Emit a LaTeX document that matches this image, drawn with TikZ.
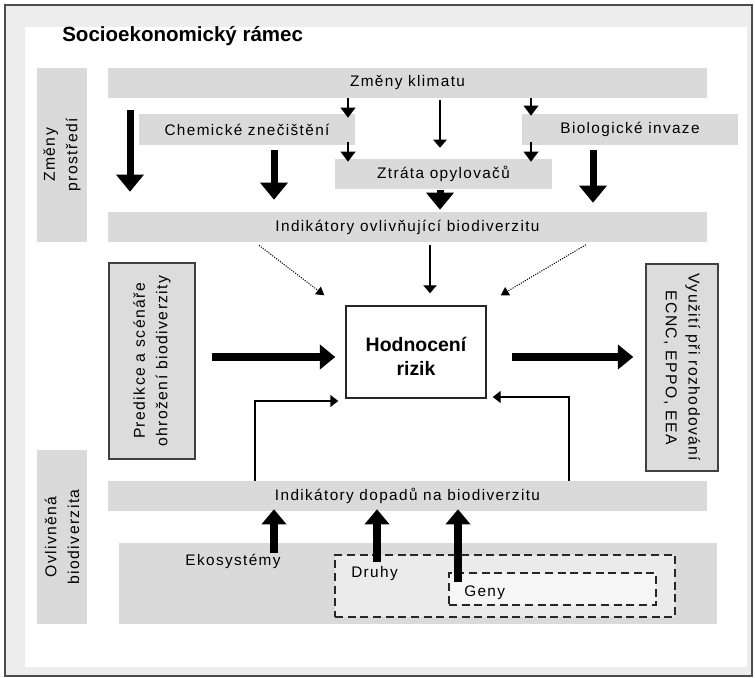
\documentclass[tikz,border=0pt]{standalone}
\usepackage{fontspec}
\setmainfont{Liberation Sans}
\newfontfamily\lsf[LetterSpace=9]{Liberation Sans}
\usetikzlibrary{arrows.meta,fit}
\definecolor{bandgray}{HTML}{DADADA}
\definecolor{framegray}{HTML}{EDEDED}
\definecolor{boxgray}{HTML}{DCDCDC}
\definecolor{druhyfill}{HTML}{EBEBEB}
\definecolor{genyfill}{HTML}{F6F6F6}
\begin{document}
\begin{tikzpicture}[x=0.75pt,y=-0.75pt,
  band/.style={fill=bandgray, draw=none, inner sep=0pt},
  btext/.style={font=\lsf\fontsize{11.5}{17}\selectfont, inner sep=0pt, align=center},
  rtext/.style={font=\lsf\fontsize{11.8}{17}\selectfont, inner sep=0pt, align=center},
  graybox/.style={fill=boxgray, draw=black!75, line width=1.1pt, inner sep=0pt},
  dbox/.style={draw=black!85, dash pattern=on 6pt off 3.5pt, line width=1.1pt, inner sep=0pt},
  bigV/.style={line width=5.25pt, -{Triangle[length=12.75pt,width=20pt]}},
  bigH/.style={line width=6.5pt, -{Triangle[length=11.5pt,width=18pt]}},
  bigU/.style={line width=6pt, -{Triangle[length=11.25pt,width=18pt]}},
  smallA/.style={line width=1.1pt, -{Triangle[length=7.5pt,width=11pt]}},
  thinA/.style={line width=0.8pt, -{Triangle[length=6pt,width=10pt]}},
  diagA/.style={line width=0.8pt, densely dotted, -{Triangle[length=6pt,width=7pt]}},
  fbA/.style={line width=1.1pt, -{Triangle[length=6pt,width=9pt]}}
]
\useasboundingbox (0,0) rectangle (755,677);
\fill[white] (0,0) rectangle (755,677);
% frame
\node[fit={(5,5)(752,676)}, inner sep=0pt, fill=framegray, draw=black!70, line width=1.2pt] (frame) {};
\node[fit={(25,27)(747,667)}, inner sep=0pt, fill=white] (inner) {};
% title
\node[anchor=base west, inner sep=0pt, font=\bfseries\fontsize{15.4}{18}\selectfont] (title) at (62,42) {Socioekonomický rámec};

% side bands
\node[band, fit={(37,68)(87,242)}] (zp) {};
\node[rtext, rotate=90] (zpT) at (zp.center) {Změny\\prostředí};
\node[band, fit={(37,450)(87,624)}] (ob) {};
\node[rtext, rotate=90] (obT) at (ob.center) {Ovlivněná\\biodiverzita};

% upper bands
\node[band, fit={(108,68)(707,98)}] (klima) {};
\node[btext] (klimaT) at (klima.center) {Změny klimatu};
\node[band, fit={(139,114)(355,145)}] (chem) {};
\node[btext] (chemT) at (chem.center) {Chemické znečištění};
\node[band, fit={(522,114)(738,145)}] (bio) {};
\node[btext] (bioT) at (bio.center) {Biologické invaze};
\node[band, fit={(335,159)(552,189)}] (ztr) {};
\node[btext] (ztrT) at (ztr.center) {Ztráta opylovačů};
\node[band, fit={(108,212)(707,242)}] (ind1) {};
\node[btext] (ind1T) at (ind1.center) {Indikátory ovlivňující biodiverzitu};

% middle
\node[graybox, fit={(109,263)(195,459)}] (pred) {};
\node[rtext, rotate=90] (predT) at (pred.center) {Predikce a scénáře\\ohrožení biodiverzity};
\node[fill=white, draw=black!85, line width=1.1pt, inner sep=0pt, fit={(346,306)(486,398)}] (hod) {};
\node[align=center, inner sep=0pt, font=\bfseries\fontsize{14.6}{18}\selectfont] (hodT) at ([yshift=-3]hod.center) {Hodnocení\\rizik};
\node[graybox, fit={(646,264)(718,471)}] (vyu) {};
\node[rtext, rotate=-90] (vyuT) at (vyu.center) {Využití při rozhodování\\ECNC, EPPO, EEA};

% lower
\node[band, fit={(108,481)(707,511)}] (ind2) {};
\node[btext] (ind2T) at (ind2.center) {Indikátory dopadů na biodiverzitu};
\node[band, fit={(119,543)(717,624)}] (eko) {};
\node[btext] (ekoT) at (233,561) {Ekosystémy};
\node[dbox, fill=druhyfill, fit={(335,555)(675,617)}] (druhy) {};
\node[btext, anchor=west] (druhyT) at (351,574) {Druhy};
\node[dbox, fill=genyfill, fit={(449,573)(656,605)}] (geny) {};
\node[btext, anchor=west] (genyT) at (464,593) {Geny};

% helper coordinates
\coordinate (xa) at (130,0);
\coordinate (xb) at (274,0);
\coordinate (xs1) at (348,0);
\coordinate (xc) at (440,0);
\coordinate (xs2) at (531,0);
\coordinate (xd) at (593,0);
\coordinate (xm) at (430,0);
\coordinate (xl) at (255,0);
\coordinate (xr) at (590,0);
\coordinate (yh) at (0,357);
\coordinate (yf1) at (0,401);
\coordinate (yf2) at (0,397);
\coordinate (xf1) at (255,0);
\coordinate (xf2) at (569,0);
\coordinate (u1) at (274,553);
\coordinate (u2) at (377,562);
\coordinate (u3) at (458,582);

% upper arrows
\draw[bigV, shorten <=9pt, shorten >=15pt] (klima.south -| xa) -- (ind1.north -| xa);
\draw[bigV, shorten <=3.75pt, shorten >=9pt] (chem.south -| xb) -- (ind1.north -| xb);
\draw[smallA, shorten >=-3pt] (klima.south -| xs1) -- (chem.north -| xs1);
\draw[smallA, shorten <=-2.25pt, shorten >=-2.25pt] (chem.south -| xs1) -- (ztr.north -| xs1);
\draw[thinA, shorten <=1.5pt, shorten >=8.25pt] (klima.south -| xc) -- (ztr.north -| xc);
\draw[smallA, shorten >=-1.5pt] (klima.south -| xs2) -- (bio.north -| xs2);
\draw[smallA, shorten <=-2.25pt, shorten >=-2.25pt] (bio.south -| xs2) -- (ztr.north -| xs2);
\draw[bigV, shorten <=3.75pt, shorten >=6.75pt] (bio.south -| xd) -- (ind1.north -| xd);
\draw[bigV, shorten <=0.75pt, shorten >=1.5pt] (ztr.south -| xc) -- (ind1.north -| xc);

% into risk assessment
\draw[diagA, shorten <=3.75pt] (ind1.south -| xl) -- ([shift={(-21,-10)}]hod.north west);
\draw[thinA, shorten <=2.25pt, shorten >=9pt] (ind1.south -| xm) -- (hod.north -| xm);
\draw[diagA, shorten <=3.75pt] (ind1.south -| xr) -- ([shift={(14,-10)}]hod.north east);
\draw[bigH, shorten <=12pt, shorten >=7.5pt] (pred.east |- yh) -- (hod.west |- yh);
\draw[bigH, shorten <=18.75pt, shorten >=9pt] (hod.east |- yh) -- (vyu.west |- yh);
\draw[fbA, shorten >=5.25pt] (ind2.north -| xf1) |- (hod.west |- yf1);
\draw[fbA, shorten >=4.5pt] (ind2.north -| xf2) |- (hod.east |- yf2);

% lower arrows
\draw[bigU, shorten >=-1.5pt] (u1) -- (ind2.south -| u1);
\draw[bigU, shorten >=-1.5pt] (u2) -- (ind2.south -| u2);
\draw[bigU, shorten >=-1.5pt] (u3) -- (ind2.south -| u3);
\end{tikzpicture}
\end{document}
